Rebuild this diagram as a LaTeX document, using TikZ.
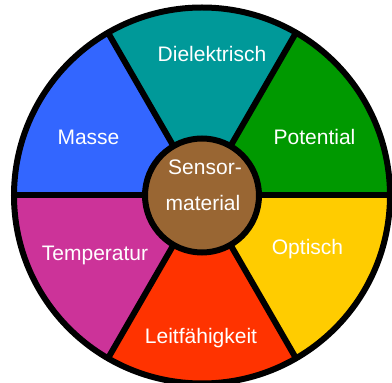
\documentclass[tikz,border=0pt]{standalone}
\usepackage{xcolor}
\usepackage{fontspec}
\setmainfont{Liberation Sans}
\definecolor{cDiel}{RGB}{0,153,153}
\definecolor{cPot}{RGB}{0,153,0}
\definecolor{cOpt}{RGB}{255,204,0}
\definecolor{cLeit}{RGB}{255,51,0}
\definecolor{cTemp}{RGB}{204,51,153}
\definecolor{cMasse}{RGB}{51,102,255}
\definecolor{cCore}{RGB}{153,102,51}

\begin{document}
\begin{tikzpicture}[x=1pt,y=1pt,
    lbl/.style={text=white,font=\fontsize{21}{36}\selectfont,anchor=base,inner sep=0pt}]
    \useasboundingbox (0,0) rectangle (392,383);
    % 定义中心点
    \coordinate (O) at (202,187.5);

    % 六个扇形
    \fill[cPot]   (O) -- ++(0:188)   arc[start angle=0,end angle=60,radius=188] -- cycle;
    \fill[cDiel]  (O) -- ++(60:188)  arc[start angle=60,end angle=120,radius=188] -- cycle;
    \fill[cMasse] (O) -- ++(120:188) arc[start angle=120,end angle=180,radius=188] -- cycle;
    \fill[cTemp]  (O) -- ++(180:188) arc[start angle=180,end angle=240,radius=188] -- cycle;
    \fill[cLeit]  (O) -- ++(240:188) arc[start angle=240,end angle=300,radius=188] -- cycle;
    \fill[cOpt]   (O) -- ++(300:188) arc[start angle=300,end angle=360,radius=188] -- cycle;

    % 分割线和外圆
    \foreach \a in {0,60,...,300}
        \draw[line width=6pt] (O) -- ++(\a:188);
    \draw[line width=6pt] (O) circle[radius=188];

    % 中心圆
    \node[circle,fill=cCore,draw,line width=6pt,minimum size=114pt,inner sep=0pt] (core) at (O) {};

    % 文字
    \node[lbl] (diel)  at (212,321.3) {Dielektrisch};
    \node[lbl] (pot)   at (314.5,238) {Potential};
    \node[lbl] (masse) at (88.5,238)  {Masse};
    \node[lbl] (opt)   at (307.5,128) {Optisch};
    \node[lbl] (temp)  at (95,122.3)  {Temperatur};
    \node[lbl] (leit)  at (201,39)    {Leitfähigkeit};
    \node[lbl] (sensor)   at (205,208)   {Sensor-};
    \node[lbl] (material) at (203,172.3) {material};

\end{tikzpicture}
\end{document}
